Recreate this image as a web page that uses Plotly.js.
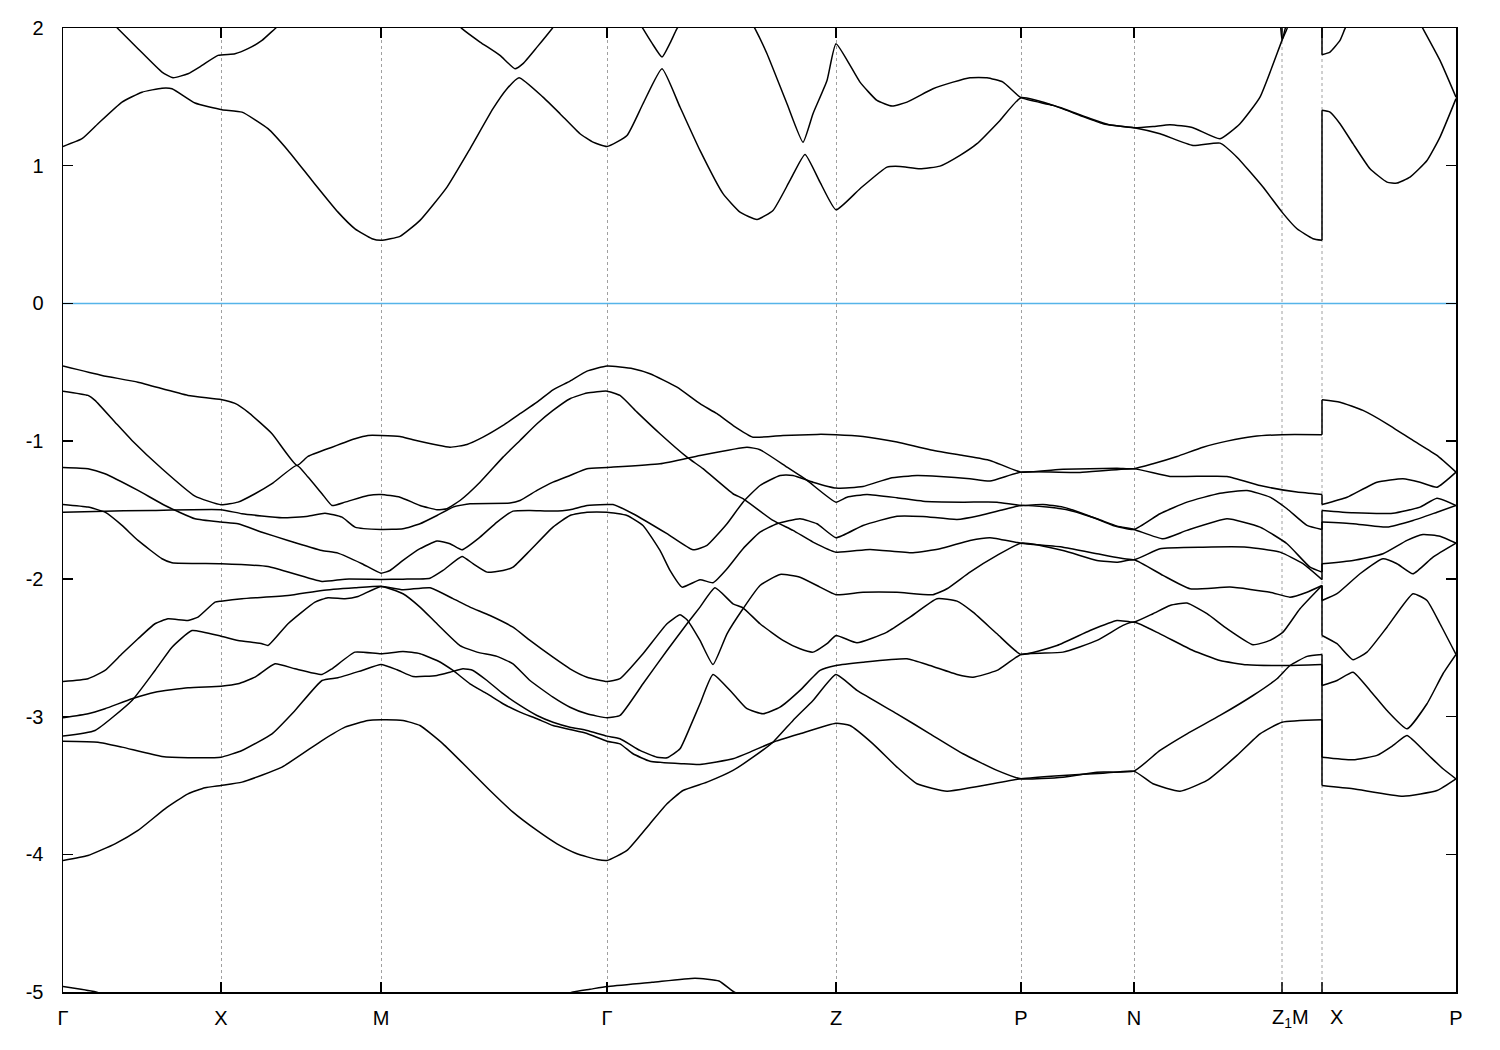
<!DOCTYPE html>
<html>
<head>
<meta charset="utf-8">
<script src="https://cdn.plot.ly/plotly-3.0.1.min.js"></script>
<style>html,body{margin:0;padding:0;background:#fff;}#chart{width:1500px;height:1050px;}</style>
</head>
<body>
<div id="chart"></div>
<script>
// High-symmetry points along the k-path (path length units) and their labels
const kTicks = [0, 1.58, 3.18, 5.44, 7.73, 9.58, 10.71, 13.93];
const kLabels = ["Γ", "X", "M", "Γ", "Z", "P", "N", "P"];
// the path break Z1|M -> X: tick positions and their (off-centre) labels
const breakTicks = [12.19, 12.59];
const breakLabels = ["Z<sub>1</sub>M", "X"];
const breakLabelPos = [12.27, 12.73];
const eTicks = [-5, -4, -3, -2, -1, 0, 1, 2];
const eLabels = ["-5", "-4", "-3", "-2", "-1", "0", "1", "2"];

// Bands: [k, E (eV)]
const band1 = [[0,-0.455],[0.39,-0.523],[0.75,-0.572],[1.25,-0.668],[1.58,-0.697],
[1.72,-0.726],[1.85,-0.789],[2.09,-0.946],[2.34,-1.176],[2.45,-1.111],[2.69,-1.044],[2.92,-0.983],[3.05,-0.959],[3.18,-0.959],
[3.37,-0.966],[3.50,-0.990],[3.87,-1.044],[4.04,-1.024],[4.20,-0.971],[4.40,-0.886],[4.57,-0.801],[4.74,-0.717],[4.90,-0.627],[5.07,-0.564],[5.24,-0.492],[5.44,-0.455],
[5.70,-0.474],[5.87,-0.511],[6.14,-0.608],[6.37,-0.728],[6.54,-0.801],[6.70,-0.886],[6.90,-0.971],[7.20,-0.959],[7.54,-0.951],[7.73,-0.953],
[8.00,-0.966],[8.34,-1.007],[8.67,-1.062],[9.00,-1.104],[9.27,-1.140],[9.58,-1.225],
[10.00,-1.205],[10.54,-1.196],[10.71,-1.200],
[10.90,-1.164],[11.14,-1.111],[11.40,-1.044],[11.64,-1.000],[11.90,-0.966],[12.19,-0.953],[12.59,-0.953],
[12.59,-0.699],[12.77,-0.717],[13.00,-0.777],[13.24,-0.874],[13.50,-0.995],[13.74,-1.104],[13.93,-1.225]];

const band2 = [[0,-1.191],[0.25,-1.200],[0.42,-1.237],[0.75,-1.358],[1.02,-1.467],[1.32,-1.564],[1.58,-1.588],
[1.75,-1.600],[1.99,-1.661],[2.25,-1.721],[2.59,-1.794],[2.75,-1.813],[2.99,-1.890],[3.18,-1.959],
[3.27,-1.939],[3.40,-1.866],[3.57,-1.781],[3.74,-1.726],[3.87,-1.745],[3.99,-1.789],[4.17,-1.697],[4.34,-1.588],[4.50,-1.508],[4.67,-1.503],[4.90,-1.508],[5.07,-1.498],[5.24,-1.467],[5.44,-1.460],
[5.50,-1.460],[5.70,-1.527],[6.04,-1.672],[6.30,-1.789],[6.44,-1.757],[6.64,-1.600],[6.80,-1.443],[6.97,-1.322],[7.17,-1.249],[7.30,-1.249],[7.50,-1.298],[7.73,-1.341],
[8.00,-1.329],[8.27,-1.269],[8.54,-1.249],[8.77,-1.256],[9.07,-1.273],[9.27,-1.290],[9.58,-1.225],
[10.17,-1.227],[10.71,-1.200],
[11.07,-1.256],[11.64,-1.256],[11.97,-1.322],[12.34,-1.370],[12.59,-1.387],
[12.59,-1.460],[12.84,-1.407],[13.14,-1.298],[13.40,-1.273],[13.57,-1.298],[13.74,-1.334],[13.93,-1.225]];

const band3 = [[0,-1.516],[0.32,-1.510],[0.89,-1.503],[1.58,-1.498],
[1.79,-1.527],[2.19,-1.556],[2.45,-1.545],[2.62,-1.523],[2.79,-1.552],[2.92,-1.624],[3.18,-1.641],
[3.40,-1.636],[3.57,-1.600],[3.74,-1.540],[3.90,-1.479],[4.07,-1.455],[4.47,-1.450],[4.57,-1.431],[4.74,-1.358],[4.90,-1.298],[5.07,-1.249],[5.24,-1.200],[5.44,-1.191],
[5.97,-1.164],[6.37,-1.104],[6.84,-1.044],[6.97,-1.062],[7.24,-1.189],[7.44,-1.285],[7.73,-1.443],
[7.84,-1.407],[8.04,-1.387],[8.34,-1.411],[8.60,-1.436],[9.00,-1.443],[9.34,-1.443],[9.58,-1.467],
[9.80,-1.460],[10.00,-1.479],[10.27,-1.545],[10.50,-1.612],[10.71,-1.641],
[10.97,-1.527],[11.24,-1.443],[11.57,-1.378],[11.84,-1.358],[12.07,-1.407],[12.24,-1.491],[12.44,-1.612],[12.59,-1.641],
[12.59,-1.503],[12.90,-1.520],[13.30,-1.523],[13.57,-1.479],[13.74,-1.414],[13.93,-1.467]];

const band4 = [[0,-1.460],[0.25,-1.479],[0.42,-1.516],[0.59,-1.612],[0.75,-1.721],[0.99,-1.854],[1.09,-1.883],[1.58,-1.890],
[2.05,-1.910],[2.59,-2.019],[2.82,-2.002],[3.18,-2.004],
[3.40,-2.002],[3.67,-1.995],[3.80,-1.939],[3.99,-1.837],[4.10,-1.890],[4.24,-1.951],[4.40,-1.939],[4.50,-1.915],[4.67,-1.794],[4.90,-1.624],[5.07,-1.540],[5.24,-1.516],[5.44,-1.516],
[5.64,-1.540],[5.80,-1.612],[5.97,-1.794],[6.07,-1.939],[6.19,-2.060],[6.37,-2.006],[6.50,-2.028],[6.64,-1.927],[6.80,-1.781],[6.97,-1.661],[7.14,-1.600],[7.37,-1.564],[7.54,-1.600],[7.73,-1.701],
[8.00,-1.612],[8.34,-1.545],[8.60,-1.547],[8.94,-1.569],[9.17,-1.540],[9.40,-1.498],[9.58,-1.467],
[9.84,-1.479],[10.07,-1.503],[10.34,-1.564],[10.54,-1.617],[10.71,-1.641],
[11.00,-1.709],[11.24,-1.648],[11.64,-1.564],[11.97,-1.624],[12.24,-1.745],[12.47,-1.915],[12.59,-1.951],
[12.59,-1.588],[12.90,-1.600],[13.24,-1.624],[13.50,-1.576],[13.74,-1.516],[13.93,-1.467]];

const band5 = [[0,-0.637],[0.25,-0.668],[0.32,-0.704],[0.52,-0.862],[0.69,-0.995],[0.99,-1.200],[1.32,-1.399],[1.58,-1.462],
[1.75,-1.443],[1.92,-1.382],[2.09,-1.309],[2.34,-1.176],[2.45,-1.261],[2.59,-1.382],[2.69,-1.467],[2.82,-1.443],[3.05,-1.394],[3.18,-1.387],
[3.37,-1.407],[3.57,-1.467],[3.74,-1.498],[3.84,-1.491],[3.97,-1.431],[4.17,-1.298],[4.40,-1.116],[4.57,-0.995],[4.74,-0.874],[4.90,-0.777],[5.07,-0.692],[5.24,-0.651],[5.44,-0.637],
[5.57,-0.668],[5.74,-0.789],[5.97,-0.946],[6.24,-1.116],[6.40,-1.200],[6.70,-1.382],[6.80,-1.418],[7.10,-1.576],[7.30,-1.648],[7.50,-1.733],[7.73,-1.806],
[8.07,-1.786],[8.50,-1.810],[8.77,-1.781],[9.07,-1.721],[9.27,-1.701],[9.58,-1.741],
[10.00,-1.770],[10.34,-1.818],[10.71,-1.861],
[10.97,-1.781],[11.40,-1.770],[11.84,-1.770],[12.17,-1.806],[12.40,-1.890],[12.59,-2.006],
[12.59,-1.890],[12.90,-1.866],[13.20,-1.818],[13.44,-1.721],[13.60,-1.678],[13.77,-1.690],[13.93,-1.741]];

const band6 = [[0,-2.745],[0.25,-2.725],[0.42,-2.665],[0.59,-2.544],[0.75,-2.435],[0.92,-2.326],[1.05,-2.290],[1.25,-2.302],[1.35,-2.278],[1.52,-2.169],[1.58,-2.162],
[1.79,-2.144],[2.25,-2.121],[2.59,-2.084],[2.92,-2.065],[3.18,-2.053],
[3.40,-2.079],[3.67,-2.065],[3.90,-2.144],[4.07,-2.205],[4.27,-2.266],[4.50,-2.351],[4.67,-2.447],[4.90,-2.569],[5.07,-2.653],[5.24,-2.714],[5.44,-2.745],
[5.57,-2.725],[5.80,-2.544],[6.04,-2.326],[6.17,-2.261],[6.24,-2.297],[6.37,-2.447],[6.50,-2.622],[6.64,-2.399],[6.80,-2.217],[6.97,-2.048],[7.17,-1.968],[7.37,-1.988],[7.57,-2.060],[7.73,-2.115],
[8.00,-2.097],[8.34,-2.097],[8.70,-2.115],[8.84,-2.072],[9.07,-1.951],[9.34,-1.830],[9.58,-1.741],
[10.00,-1.794],[10.34,-1.866],[10.54,-1.879],[10.71,-1.861],
[11.00,-1.975],[11.27,-2.072],[11.67,-2.060],[12.07,-2.097],[12.27,-2.133],[12.44,-2.097],[12.59,-2.048],
[12.59,-2.157],[12.74,-2.108],[12.97,-1.963],[13.20,-1.854],[13.34,-1.890],[13.50,-1.963],[13.70,-1.842],[13.93,-1.741]];

const band7 = [[0,-3.142],[0.32,-3.101],[0.69,-2.883],[0.92,-2.665],[1.09,-2.496],[1.29,-2.375],[1.58,-2.416],
[1.75,-2.447],[1.99,-2.471],[2.05,-2.484],[2.25,-2.326],[2.52,-2.169],[2.65,-2.137],[2.82,-2.144],[2.95,-2.128],[3.18,-2.055],
[3.40,-2.108],[3.57,-2.205],[3.74,-2.326],[3.97,-2.484],[4.14,-2.532],[4.34,-2.563],[4.50,-2.617],[4.67,-2.738],[4.90,-2.859],[5.07,-2.932],[5.24,-2.980],[5.44,-3.009],
[5.57,-2.992],[5.80,-2.762],[6.04,-2.520],[6.24,-2.326],[6.37,-2.205],[6.52,-2.065],[6.70,-2.181],[6.80,-2.210],[6.97,-2.326],[7.20,-2.447],[7.37,-2.508],[7.50,-2.532],[7.64,-2.471],[7.73,-2.411],
[7.94,-2.464],[8.24,-2.387],[8.47,-2.278],[8.74,-2.144],[8.94,-2.162],[9.10,-2.242],[9.34,-2.399],[9.58,-2.549],
[9.94,-2.484],[10.27,-2.375],[10.54,-2.302],[10.71,-2.314],
[10.90,-2.253],[11.07,-2.193],[11.24,-2.176],[11.44,-2.253],[11.64,-2.362],[11.90,-2.479],[12.07,-2.447],[12.20,-2.387],[12.37,-2.217],[12.59,-2.048],
[12.59,-2.411],[12.74,-2.471],[12.90,-2.587],[13.04,-2.532],[13.24,-2.351],[13.50,-2.108],[13.64,-2.157],[13.77,-2.326],[13.93,-2.549]];

const band8 = [[0,-4.045],[0.25,-4.009],[0.52,-3.924],[0.75,-3.827],[1.02,-3.670],[1.25,-3.561],[1.42,-3.517],[1.58,-3.500],
[1.79,-3.476],[2.19,-3.367],[2.59,-3.174],[2.82,-3.077],[3.05,-3.028],[3.18,-3.023],
[3.40,-3.028],[3.57,-3.065],[3.80,-3.198],[4.07,-3.391],[4.27,-3.537],[4.50,-3.694],[4.74,-3.827],[4.94,-3.924],[5.14,-3.996],[5.34,-4.038],[5.44,-4.045],
[5.64,-3.972],[5.87,-3.778],[6.04,-3.633],[6.20,-3.537],[6.44,-3.476],[6.70,-3.391],[6.90,-3.295],[7.10,-3.186],[7.30,-3.028],[7.50,-2.883],[7.73,-2.694],
[7.94,-2.810],[8.34,-2.980],[8.67,-3.125],[9.00,-3.270],[9.34,-3.391],[9.58,-3.452],
[10.00,-3.440],[10.34,-3.404],[10.71,-3.396],
[10.97,-3.246],[11.24,-3.125],[11.57,-2.992],[11.90,-2.847],[12.14,-2.725],[12.27,-2.629],[12.44,-2.563],[12.59,-2.549],
[12.59,-2.774],[12.74,-2.738],[12.90,-2.678],[13.07,-2.810],[13.24,-2.956],[13.44,-3.089],[13.64,-2.907],[13.80,-2.689],[13.93,-2.549]];

const band9 = [[0,-3.179],[0.35,-3.186],[0.59,-3.222],[0.99,-3.290],[1.25,-3.299],[1.58,-3.295],
[1.79,-3.246],[2.09,-3.125],[2.32,-2.956],[2.59,-2.738],[2.75,-2.718],[2.99,-2.665],[3.18,-2.622],
[3.34,-2.660],[3.50,-2.709],[3.74,-2.701],[3.87,-2.678],[4.00,-2.653],[4.10,-2.665],[4.24,-2.738],[4.40,-2.834],[4.57,-2.919],[4.74,-2.992],[4.90,-3.041],[5.07,-3.077],[5.24,-3.101],[5.44,-3.142],
[5.57,-3.161],[5.77,-3.246],[5.94,-3.295],[6.04,-3.299],[6.17,-3.234],[6.27,-3.077],[6.37,-2.907],[6.50,-2.694],[6.70,-2.834],[6.84,-2.943],[7.00,-2.980],[7.17,-2.932],[7.37,-2.810],[7.57,-2.665],[7.73,-2.629],
[8.00,-2.605],[8.44,-2.580],[8.67,-2.629],[8.94,-2.694],[9.10,-2.714],[9.34,-2.665],[9.58,-2.549],
[10.00,-2.532],[10.34,-2.447],[10.60,-2.338],[10.71,-2.314],
[10.97,-2.399],[11.30,-2.520],[11.57,-2.593],[11.84,-2.624],[12.24,-2.629],[12.59,-2.622],
[12.59,-3.295],[12.90,-3.314],[13.14,-3.282],[13.30,-3.210],[13.44,-3.137],[13.64,-3.270],[13.80,-3.379],[13.93,-3.452]];

const band10 = [[0,-3.009],[0.25,-2.980],[0.42,-2.943],[0.69,-2.871],[0.92,-2.823],[1.25,-2.791],[1.58,-2.779],
[1.75,-2.762],[1.92,-2.714],[2.12,-2.617],[2.32,-2.653],[2.59,-2.694],[2.69,-2.653],[2.92,-2.532],[3.18,-2.544],
[3.40,-2.527],[3.57,-2.544],[3.74,-2.593],[3.90,-2.665],[4.07,-2.762],[4.24,-2.834],[4.40,-2.907],[4.57,-2.968],[4.74,-3.016],[4.90,-3.065],[5.07,-3.094],[5.24,-3.123],[5.44,-3.179],
[5.57,-3.198],[5.70,-3.270],[5.87,-3.324],[6.20,-3.343],[6.37,-3.348],[6.70,-3.306],[6.87,-3.258],[7.10,-3.186],[7.37,-3.125],[7.73,-3.048],
[7.87,-3.065],[8.10,-3.198],[8.34,-3.367],[8.54,-3.488],[8.84,-3.542],[9.10,-3.513],[9.58,-3.452],
[10.00,-3.428],[10.40,-3.411],[10.71,-3.396],
[10.90,-3.488],[11.17,-3.542],[11.44,-3.464],[11.74,-3.282],[11.97,-3.125],[12.19,-3.041],[12.59,-3.023],
[12.59,-3.500],[12.90,-3.524],[13.40,-3.578],[13.74,-3.537],[13.93,-3.452]];

const bandLow = [[0,-4.96],[0.18,-4.98],[0.33,-5.00],[0.50,-5.04],[3.18,-5.30],[4.92,-5.04],[5.10,-5.00],[5.27,-4.98],[5.44,-4.96],[5.89,-4.93],[6.32,-4.90],[6.56,-4.92],[6.71,-5.00],[6.85,-5.04],[7.73,-5.30]];

const cond1 = [[0,1.140],[0.19,1.196],[0.35,1.305],[0.59,1.462],[0.79,1.534],[0.99,1.563],[1.09,1.559],[1.32,1.455],[1.59,1.407],[1.79,1.389],[2.05,1.269],[2.25,1.111],[2.49,0.893],[2.75,0.663],[2.92,0.542],[3.09,0.470],[3.18,0.458],
[3.37,0.487],[3.57,0.603],[3.84,0.845],[4.07,1.123],[4.30,1.414],[4.44,1.559],[4.56,1.639],[4.80,1.498],[4.97,1.378],[5.17,1.232],[5.30,1.171],[5.44,1.140],
[5.64,1.220],[5.80,1.450],[5.99,1.704],[6.17,1.426],[6.37,1.111],[6.60,0.797],[6.77,0.663],[6.94,0.610],[7.10,0.675],[7.27,0.893],[7.42,1.082],[7.57,0.881],[7.73,0.680],
[7.97,0.833],[8.24,0.990],[8.37,0.995],[8.57,0.978],[8.77,0.997],[8.97,1.075],[9.14,1.160],[9.37,1.329],[9.58,1.494],
[9.97,1.423],[10.27,1.343],[10.47,1.296],[10.71,1.276],
[10.97,1.232],[11.30,1.147],[11.57,1.164],[11.74,1.062],[12.00,0.845],[12.19,0.663],[12.34,0.542],[12.50,0.470],[12.59,0.458],
[12.59,1.402],[12.67,1.389],[12.77,1.305],[12.90,1.160],[13.07,0.978],[13.24,0.881],[13.34,0.874],[13.47,0.917],[13.64,1.038],[13.77,1.208],[13.93,1.487]];

const cond2 = [[0,2.35],[0.37,2.12],[0.55,1.995],[0.75,1.850],[0.99,1.680],[1.10,1.639],[1.25,1.668],[1.39,1.728],[1.55,1.801],[1.72,1.813],[1.85,1.850],[1.99,1.910],[2.12,1.995],[2.32,2.12],[3.18,2.35],[3.82,2.12],
[3.99,1.995],[4.17,1.898],[4.37,1.801],[4.52,1.704],[4.60,1.741],[4.74,1.861],[4.89,1.995],[5.02,2.12],[5.44,2.30],[5.70,2.12],
[5.80,1.995],[5.89,1.89],[5.99,1.789],[6.07,1.89],[6.14,1.995],[6.27,2.13],[6.52,2.25],[6.82,2.12],
[6.92,1.995],[7.04,1.813],[7.24,1.450],[7.40,1.171],[7.50,1.378],[7.64,1.619],[7.73,1.886],
[7.97,1.607],[8.14,1.474],[8.29,1.433],[8.44,1.462],[8.70,1.559],[8.90,1.607],[9.07,1.639],[9.24,1.639],[9.40,1.607],[9.58,1.494],
[9.90,1.438],[10.17,1.365],[10.40,1.305],[10.71,1.276],
[10.90,1.285],[11.07,1.298],[11.30,1.276],[11.57,1.196],[11.77,1.305],[11.97,1.498],[12.19,1.910],[12.24,1.995],[12.34,2.20],[12.59,2.35],
[12.59,1.806],[12.67,1.825],[12.77,1.910],[12.82,1.995],[12.97,2.20],[13.27,2.30],[13.52,2.10],[13.60,1.995],[13.77,1.765],[13.93,1.498]];

const cond3 = [[12.17,2.08],[12.19,1.91],[12.23,2.02]];

const bands = [band1, band2, band3, band4, band5, band6, band7, band8, band9, band10, bandLow, cond1, cond2, cond3];

// Each band is drawn smoothly on either side of the path break, and the jump
// at the break (two points with the same k) is drawn as a straight connector.
const traces = [];
const lineStyle = {color: '#000000', width: 1.5};
bands.forEach(b => {
  let cut = -1;
  for (let i = 1; i < b.length; i++) { if (b[i][0] === b[i - 1][0]) { cut = i; break; } }
  const parts = cut < 0 ? [b] : [b.slice(0, cut), b.slice(cut - 1, cut + 1), b.slice(cut)];
  parts.forEach((p, j) => {
    const isJump = cut >= 0 && j === 1;
    traces.push({
      type: 'scatter', mode: 'lines',
      x: p.map(q => q[0]), y: p.map(q => q[1]),
      line: Object.assign({}, lineStyle, isJump ? {shape: 'linear'} : {shape: 'spline', smoothing: 0.45}),
      hoverinfo: 'skip', showlegend: false
    });
  });
});

const tickFont = {family: 'Liberation Sans, Arial, Helvetica, sans-serif', size: 20, color: '#000'};
const plotH = 1050 - 28 - 58;
const tickFrac = 10 / plotH;

// grid line and inside tick marks (bottom and top) for the two break ticks
const shapes = [{type: 'line', xref: 'x', yref: 'y', x0: 0, x1: 13.93, y0: 0, y1: 0,
                 line: {color: '#56b4e9', width: 1.5}, layer: 'below'}];
breakTicks.forEach(k => {
  shapes.push({type: 'line', xref: 'x', yref: 'paper', x0: k, x1: k, y0: 0, y1: 1,
               line: {color: '#a0a0a0', width: 1, dash: 'dot'}, layer: 'below'});
  shapes.push({type: 'line', xref: 'x', yref: 'paper', x0: k, x1: k, y0: 0, y1: tickFrac,
               line: {color: '#000', width: 1.5}, layer: 'above'});
  shapes.push({type: 'line', xref: 'x', yref: 'paper', x0: k, x1: k, y0: 1 - tickFrac, y1: 1,
               line: {color: '#000', width: 1.5}, layer: 'above'});
});

const layout = {
  width: 1500, height: 1050,
  margin: {l: 63, r: 44, t: 28, b: 58, pad: 0},
  paper_bgcolor: '#fff', plot_bgcolor: '#fff',
  showlegend: false,
  xaxis: {
    range: [0, 13.93], tickmode: 'array', tickvals: kTicks, ticktext: kLabels, tickangle: 0,
    ticks: 'inside', ticklen: 10, tickwidth: 1.5, tickcolor: '#000',
    showline: true, linecolor: '#000', linewidth: 1.5, mirror: 'ticks',
    showgrid: true, gridcolor: '#a0a0a0', gridwidth: 1, griddash: 'dot',
    zeroline: false, tickfont: tickFont, ticklabelstandoff: 7, fixedrange: true
  },
  yaxis: {
    range: [-5, 2], tickmode: 'array', tickvals: eTicks, ticktext: eLabels,
    ticks: 'inside', ticklen: 10, tickwidth: 1.5, tickcolor: '#000',
    showline: true, linecolor: '#000', linewidth: 1.5, mirror: 'ticks',
    showgrid: false, zeroline: false, tickfont: tickFont, ticklabelstandoff: 14, fixedrange: true
  },
  shapes: shapes,
  annotations: breakLabels.map((t, i) => ({
    text: t, x: breakLabelPos[i], xref: 'x', y: 0, yref: 'paper',
    xanchor: 'center', yanchor: 'top', yshift: -13, showarrow: false,
    borderpad: 0, font: tickFont
  }))
};

Plotly.newPlot('chart', traces, layout, {staticPlot: true, displayModeBar: false});
</script>
</body>
</html>
